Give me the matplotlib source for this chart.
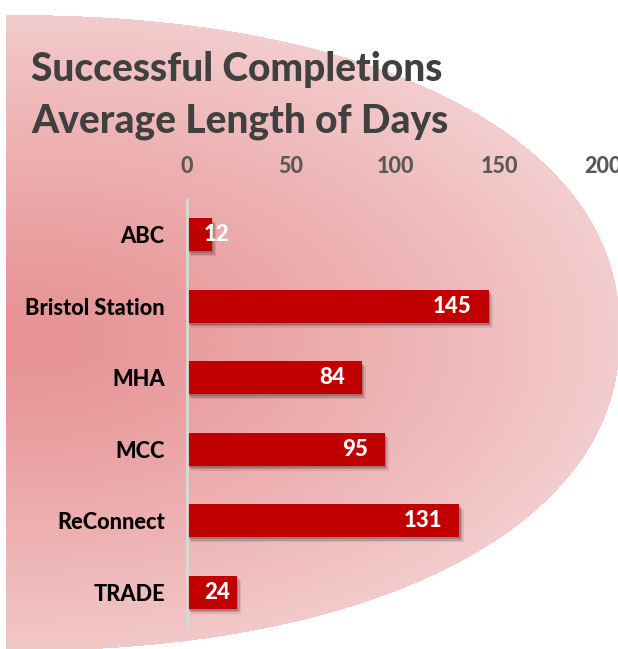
import numpy as np
import matplotlib
matplotlib.use("Agg")
import matplotlib.pyplot as plt
from matplotlib import patheffects as pe

categories = ["ABC", "Bristol Station", "MHA", "MCC", "ReConnect", "TRADE"]
values = [12, 145, 84, 95, 131, 24]
xticks = [0, 50, 100, 150, 200]
title_lines = ["Successful Completions", "Average Length of Days"]

W, H, DPI = 618, 649, 100
plt.rcParams['font.family'] = ['Lato', 'DejaVu Sans']
WEIGHT = 'black'

fig = plt.figure(figsize=(W / DPI, H / DPI), dpi=DPI)
fig.patch.set_facecolor('white')

# ---- background: radial-gradient rounded shape ----
bg = fig.add_axes([0, 0, 1, 1], zorder=-10)
yy, xx = np.mgrid[0:H, 0:W] + 0.5
cx, cy, a, b, n = 6.0, 333.0, 614.0, 318.0, 2.2
inside = (np.abs((xx - cx) / a) ** n + np.abs((yy - cy) / b) ** n) <= 1.0
inside &= xx >= 6
r = np.sqrt(((xx - 30) / 590.0) ** 2 + ((yy - 340) / 330.0) ** 2)
t = np.clip(r, 0, 1) ** 1.2
c0 = np.array([231, 146, 147]) / 255.0
c1 = np.array([243, 204, 205]) / 255.0
img = np.ones((H, W, 4))
for k in range(3):
    img[..., k] = c0[k] + (c1[k] - c0[k]) * t
img[..., 3] = inside.astype(float)
bg.imshow(img, extent=(0, W, H, 0), interpolation='bilinear', aspect='auto')
bg.set_xlim(0, W)
bg.set_ylim(H, 0)
bg.axis('off')

# ---- main axes ----
left, right, top, bottom = 187, 603, 199, 628
ax = fig.add_axes([left / W, 1 - bottom / H, (right - left) / W, (bottom - top) / H])
ax.set_facecolor('none')

ypos = np.arange(len(categories))
shadow = [pe.SimplePatchShadow(offset=(3.0, -3.5), shadow_rgbFace='#3a2020', alpha=0.10),
          pe.SimplePatchShadow(offset=(2.0, -2.5), shadow_rgbFace='#3a2020', alpha=0.18),
          pe.SimplePatchShadow(offset=(1.0, -1.5), shadow_rgbFace='#3a2020', alpha=0.22),
          pe.Normal()]
bars = ax.barh(ypos, values, height=0.46, color='#C00000', zorder=3)
for bar in bars:
    bar.set_path_effects(shadow)

ax.set_xlim(0, 200)
ax.set_ylim(len(categories) - 0.5, -0.5)
ax.set_xticks(xticks)
ax.set_xticklabels([str(v) for v in xticks])
ax.xaxis.tick_top()
ax.tick_params(axis='x', length=0, pad=16, labelsize=15.5, labelcolor='#595959')
ax.tick_params(axis='y', length=0, pad=16, labelsize=15.7, labelcolor='black')
ax.set_yticks(ypos)
ax.set_yticklabels(categories)
for lab in ax.get_xticklabels() + ax.get_yticklabels():
    lab.set_fontweight(WEIGHT)
for s in ['top', 'right', 'bottom']:
    ax.spines[s].set_visible(False)
ax.spines['left'].set_color('#D9D9D9')
ax.spines['left'].set_linewidth(2)
ax.spines['left'].set_zorder(4)

pad_pt = 17 * 72 / DPI
for i, v in enumerate(values):
    if v < 30:
        ax.annotate(str(v), xy=(0, i), xytext=(pad_pt, 0), textcoords='offset points',
                    ha='left', va='center', color='white', fontsize=16, fontweight=WEIGHT, zorder=5)
    else:
        ax.annotate(str(v), xy=(v, i), xytext=(-pad_pt, 0), textcoords='offset points',
                    ha='right', va='center', color='white', fontsize=16, fontweight=WEIGHT, zorder=5)

for line, base_px in zip(title_lines, [81, 132]):
    fig.text(31 / W, 1 - base_px / H, line, ha='left', va='baseline',
             fontsize=28, fontweight=WEIGHT, color='#404040')

fig.savefig('out.png', dpi=DPI, facecolor='white')
